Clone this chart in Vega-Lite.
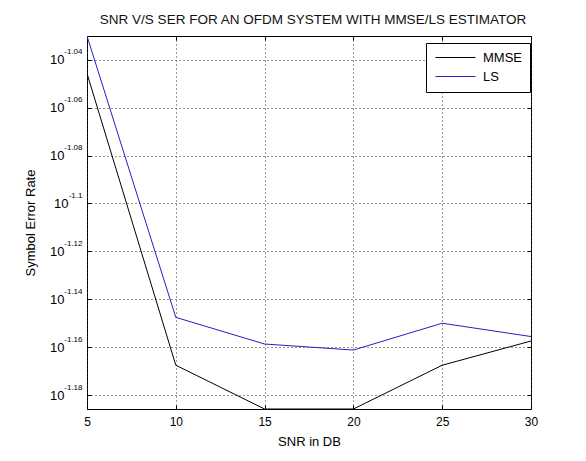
{
  "$schema": "https://vega.github.io/schema/vega-lite/v6.json",
  "width": 444,
  "height": 373,
  "autosize": "none",
  "padding": {"left": 87, "top": 36, "right": 55, "bottom": 52},
  "background": "white",
  "title": {
    "text": "SNR V/S SER FOR AN OFDM SYSTEM WITH MMSE/LS ESTIMATOR",
    "font": "Liberation Sans",
    "fontSize": 13.5,
    "fontWeight": "normal",
    "color": "#111111",
    "anchor": "middle",
    "dx": 4,
    "offset": 9
  },
  "data": {
    "values": [
      {"snr": 5, "ser": 0.0900, "est": "MMSE"},
      {"snr": 10, "ser": 0.0680, "est": "MMSE"},
      {"snr": 15, "ser": 0.0652, "est": "MMSE"},
      {"snr": 20, "ser": 0.0652, "est": "MMSE"},
      {"snr": 25, "ser": 0.0680, "est": "MMSE"},
      {"snr": 30, "ser": 0.0696, "est": "MMSE"},
      {"snr": 5, "ser": 0.0933, "est": "LS"},
      {"snr": 10, "ser": 0.0712, "est": "LS"},
      {"snr": 15, "ser": 0.0694, "est": "LS"},
      {"snr": 20, "ser": 0.0690, "est": "LS"},
      {"snr": 25, "ser": 0.0708, "est": "LS"},
      {"snr": 30, "ser": 0.0699, "est": "LS"}
    ]
  },
  "config": {
    "view": {"stroke": "#000000", "strokeWidth": 1},
    "axis": {
      "labelFont": "Liberation Sans",
      "titleFont": "Liberation Sans",
      "labelColor": "#000000",
      "titleColor": "#000000",
      "titleFontWeight": "normal",
      "domain": false,
      "gridColor": "#333333",
      "gridDash": [1, 3],
      "gridOpacity": 1,
      "gridWidth": 1,
      "tickColor": "#000000"
    }
  },
  "resolve": {"axis": {"x": "independent", "y": "independent"}},
  "layer": [
    {
      "mark": {"type": "line", "clip": true, "strokeWidth": 1},
      "encoding": {
        "x": {
          "field": "snr", "type": "quantitative",
          "scale": {"domain": [5, 30], "nice": false, "zero": false},
          "axis": {
            "values": [5, 10, 15, 20, 25, 30],
            "format": "d",
            "title": "SNR in DB",
            "titleFontSize": 13,
            "titlePadding": 8,
            "labelFontSize": 12,
            "labelPadding": 7,
            "ticks": false,
            "grid": true,
            "labelFlush": false
          }
        },
        "y": {
          "field": "ser", "type": "quantitative",
          "scale": {"type": "log", "domain": [0.0652, 0.0933], "nice": false, "zero": false},
          "axis": {
            "values": [0.0912011, 0.0870964, 0.0831764, 0.0794328, 0.0758578, 0.0724436, 0.0691831, 0.0660693],
            "labelExpr": "'10'",
            "labelFontSize": 13,
            "labelPadding": {"condition": {"test": "abs(datum.value - 0.0794328) < 0.0001", "value": 19}, "value": 23},
            "ticks": false,
            "grid": true,
            "title": "Symbol Error Rate",
            "titleFontSize": 13,
            "titlePadding": 12,
            "labelFlush": false
          }
        },
        "color": {
          "field": "est", "type": "nominal",
          "scale": {"domain": ["MMSE", "LS"], "range": ["#000000", "#2020c8"]},
          "legend": {
            "title": null,
            "orient": "none",
            "legendX": 339,
            "legendY": 7,
            "symbolType": "M-1,0H7",
            "symbolSize": 100,
            "symbolStrokeWidth": 1,
            "labelFont": "Liberation Sans",
            "labelFontSize": 13,
            "labelColor": "#000000",
            "labelOffset": 36,
            "rowPadding": 5,
            "padding": 8,
            "strokeColor": "#000000",
            "fillColor": "#ffffff"
          }
        }
      }
    },
    {
      "mark": {"type": "line", "strokeOpacity": 0},
      "encoding": {
        "x": {
          "field": "snr", "type": "quantitative",
          "axis": {"orient": "top", "values": [5, 10, 15, 20, 25, 30], "labels": false, "grid": false, "ticks": true, "tickSize": 4, "offset": -4, "title": null}
        },
        "y": {
          "field": "ser", "type": "quantitative",
          "axis": {
            "orient": "left",
            "values": [0.0912011, 0.0870964, 0.0831764, 0.0794328, 0.0758578, 0.0724436, 0.0691831, 0.0660693],
            "labelExpr": "replace(format(log(datum.value) / LN10, '.2~f'), '\u2212', '-')",
            "labelFontSize": 8,
            "labelPadding": 5,
            "labelOffset": -8,
            "ticks": false,
            "grid": false,
            "title": null,
            "labelFlush": false
          }
        }
      }
    },
    {
      "mark": {"type": "line", "strokeOpacity": 0},
      "encoding": {
        "x": {
          "field": "snr", "type": "quantitative",
          "axis": {"orient": "bottom", "values": [5, 10, 15, 20, 25, 30], "labels": false, "grid": false, "ticks": true, "tickSize": 4, "offset": -4, "title": null}
        },
        "y": {
          "field": "ser", "type": "quantitative",
          "axis": {"orient": "right", "values": [0.0912011, 0.0870964, 0.0831764, 0.0794328, 0.0758578, 0.0724436, 0.0691831, 0.0660693], "labels": false, "grid": false, "ticks": true, "tickSize": 4, "offset": -4, "title": null}
        }
      }
    },
    {
      "mark": {"type": "line", "strokeOpacity": 0},
      "encoding": {
        "x": {"field": "snr", "type": "quantitative", "axis": null},
        "y": {
          "field": "ser", "type": "quantitative",
          "axis": {"orient": "left", "values": [0.0912011, 0.0870964, 0.0831764, 0.0794328, 0.0758578, 0.0724436, 0.0691831, 0.0660693], "labels": false, "grid": false, "ticks": true, "tickSize": 4, "offset": -4, "title": null}
        }
      }
    }
  ]
}
